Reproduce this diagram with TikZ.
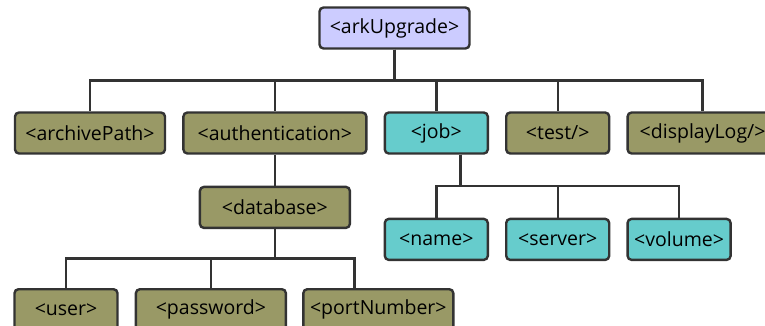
\documentclass[tikz,border=0pt]{standalone}
\usepackage{fontspec}
\setmainfont{Open Sans}
\usepackage{xcolor}
\usepackage{tikz}
\usetikzlibrary{positioning, calc}

\definecolor{rootfill}{HTML}{CCCCFF}
\definecolor{tagfill}{HTML}{999966}
\definecolor{jobfill}{HTML}{66CCCC}
\definecolor{linegray}{HTML}{333333}

\begin{document}
\begin{tikzpicture}[
    x=1pt, y=1pt,
    node distance=16pt,
    tag/.style={rectangle, draw=linegray, line width=2.4pt, rounded corners=4pt, minimum height=41pt, inner sep=2pt, font=\fontsize{19.5}{22}\selectfont},
    wide/.style={tag, minimum width=150pt},
    narrow/.style={tag, minimum width=103pt},
    branch/.style={draw=linegray, line width=2.4pt, to path={(\tikztostart) |- ($(\tikztostart)!0.5!(\tikztotarget)$) -| (\tikztotarget)}}
]
\useasboundingbox (0,0) rectangle (765,-326);

% Root
\node[wide, fill=rootfill] (ark) at (394.5,-28) {<arkUpgrade>};

% Row 1: direct children
\node[wide, fill=tagfill] (archive) at (90,-133) {<archivePath>};
\node[tag, fill=tagfill, minimum width=183pt, right=of archive] (auth) {<authentication>};
\node[narrow, fill=jobfill, right=of auth] (job) {<job>};
\node[narrow, fill=tagfill, right=of job] (test) {<test/>};
\node[wide, fill=tagfill, right=of test] (log) {<displayLog/>};

% Row 2: authentication and job
\node[wide, fill=tagfill, below=31pt of auth] (db) {<database>};
\node[narrow, fill=jobfill, below=63pt of job] (name) {<name>};
\node[narrow, fill=jobfill, right=of name] (server) {<server>};
\node[narrow, fill=jobfill, right=of server] (volume) {<volume>};

% Row 3: database
\node[narrow, fill=tagfill, anchor=north] (user) at (66,-288) {<user>};
\node[wide, fill=tagfill, right=of user] (pass) {<password>};
\node[wide, fill=tagfill, right=15pt of pass] (port) {<portNumber>};

% side attachment points
\coordinate (jobout) at ([xshift=24pt]job.south);
\coordinate (portin) at ([xshift=-24pt]port.north);

% Connectors
\foreach \kid in {archive, auth, job, test, log}
    \draw[branch] (ark.south) to (\kid.north);
\draw[branch] (auth.south) to (db.north);
\foreach \kid in {name, server, volume}
    \draw[branch] (jobout) to (\kid.north);
\draw[branch] (db.south) to (user.north);
\draw[branch] (db.south) to (pass.north);
\draw[branch] (db.south) to (portin);

\end{tikzpicture}
\end{document}
